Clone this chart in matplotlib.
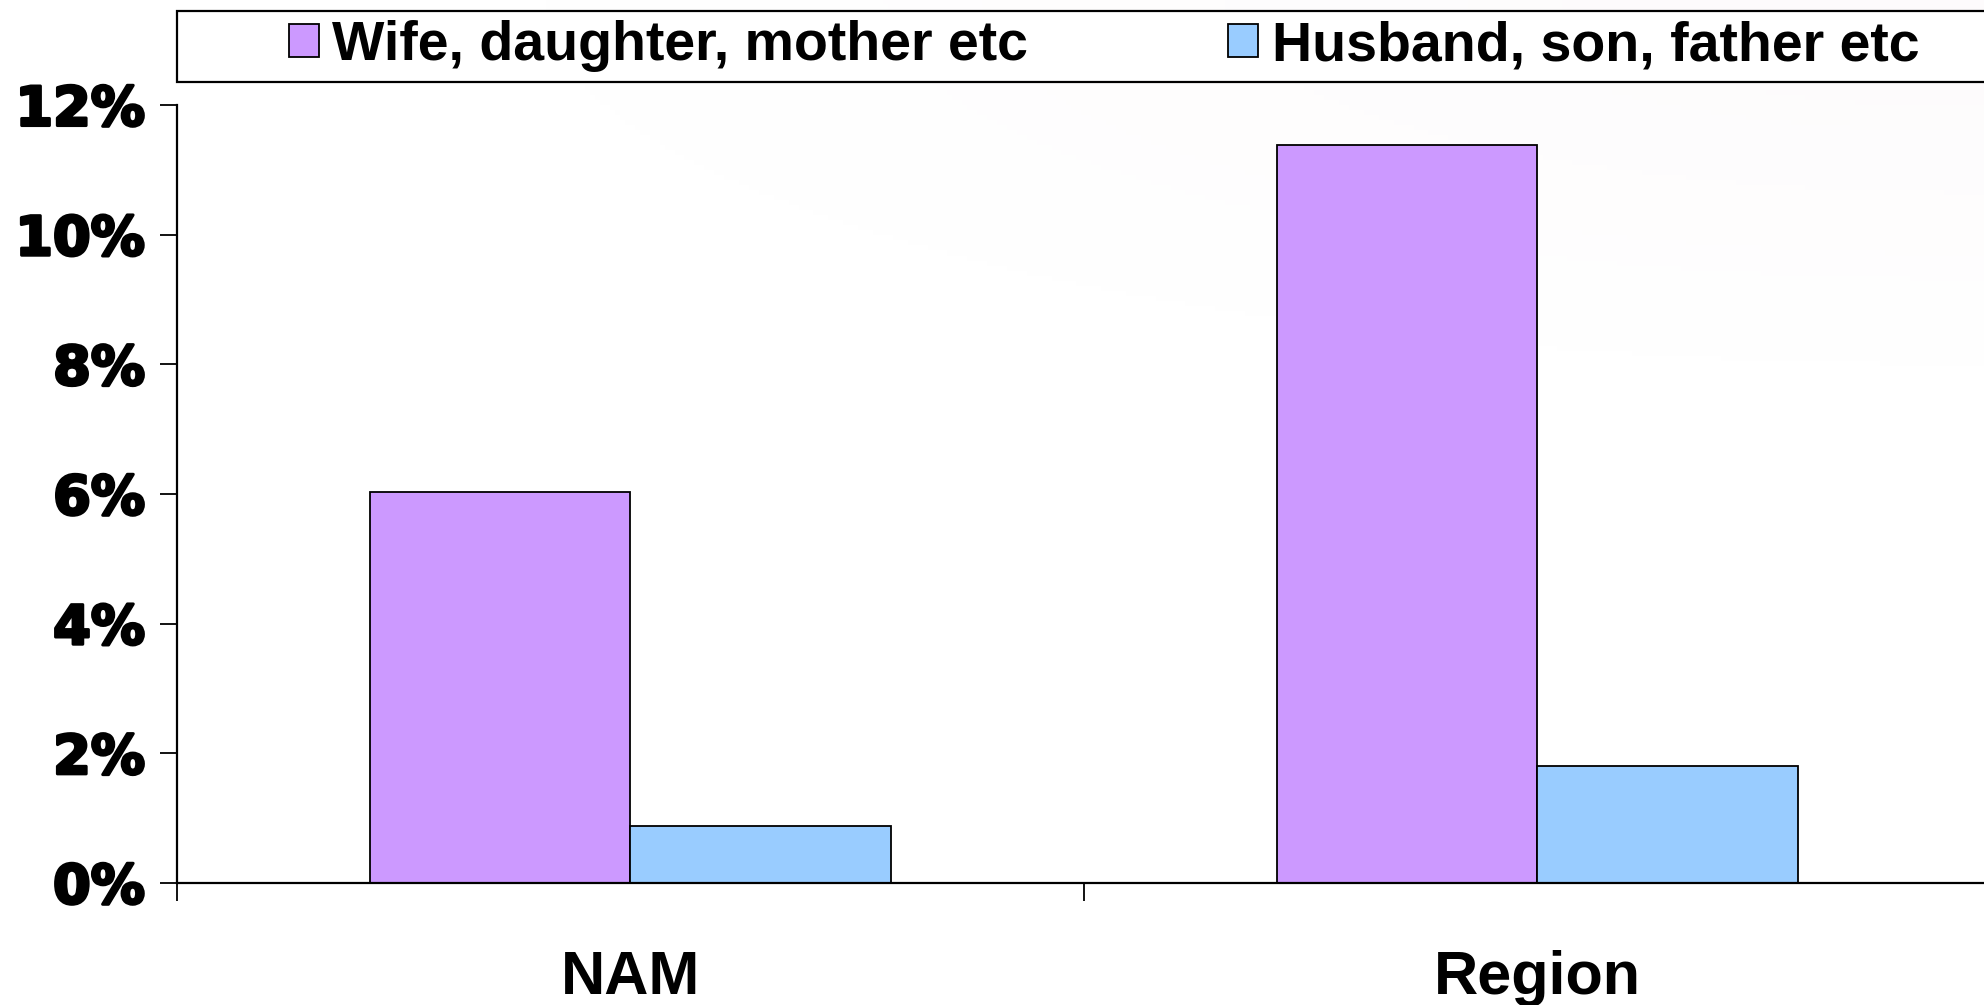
import matplotlib
matplotlib.use("Agg")
import matplotlib.pyplot as plt
import matplotlib.patheffects as pe
import numpy as np
from matplotlib.patches import Rectangle

categories = ["NAM", "Region"]
series_names = ["Wife, daughter, mother etc", "Husband, son, father etc"]
female_pct = [6.03, 11.38]
male_pct = [0.88, 1.81]
y_ticks = [0, 2, 4, 6, 8, 10, 12]
y_tick_labels = ["0%", "2%", "4%", "6%", "8%", "10%", "12%"]

colors = ["#CC99FF", "#99CCFF"]

fig = plt.figure(figsize=(19.84, 10.05), dpi=100)

# faint slide background wash in the top-right corner
yy, xx = np.mgrid[0:1:200j, 0:1:400j]
wash = np.clip(1.2 - np.hypot((1 - xx) * 1.6, yy * 3.2), 0, 1) * 0.10
bg = np.ones((200, 400, 4))
bg[..., 0] = 0.93
bg[..., 1] = 0.86
bg[..., 2] = 0.9
bg[..., 3] = wash
bgax = fig.add_axes([0, 0, 1, 1], zorder=-5)
bgax.imshow(bg, extent=[0, 1, 0, 1], aspect="auto")
bgax.axis("off")

ax = fig.add_axes([0.0892, 0.1214, 0.9143, 0.7741])
ax.patch.set_alpha(0)

x = np.arange(len(categories)) + 0.5
w = 0.287
ax.bar(x - w / 2, female_pct, w, color=colors[0], edgecolor="black",
       linewidth=1.3, label=series_names[0])
ax.bar(x + w / 2, male_pct, w, color=colors[1], edgecolor="black",
       linewidth=1.3, label=series_names[1])

ax.set_xlim(0, len(categories))
ax.set_ylim(0, 12)

ax.set_yticks(y_ticks)
ax.set_yticklabels(y_tick_labels, fontfamily="DejaVu Sans",
                   fontweight="bold", fontsize=39)
for t in ax.get_yticklabels():
    t.set_path_effects([pe.withStroke(linewidth=2.2, foreground="black")])
ax.tick_params(axis="y", length=12, width=1.3, pad=11)

# category boundary ticks, labels centred between them
ax.set_xticks(np.arange(len(categories) + 1))
ax.set_xticklabels([])
ax.set_xticks(x, minor=True)
ax.set_xticklabels(categories, minor=True, fontfamily="Liberation Sans",
                   fontweight="bold", fontsize=44)
ax.tick_params(axis="x", which="major", length=13, width=1.3)
ax.tick_params(axis="x", which="minor", length=0, pad=48)

for side in ["top", "right"]:
    ax.spines[side].set_visible(False)
for side in ["left", "bottom"]:
    ax.spines[side].set_linewidth(1.6)

# legend frame drawn as a box, legend entries centred inside it
fig.patches.append(Rectangle((177 / 1984, 1 - 82 / 1005), 0.92, 71 / 1005,
                             transform=fig.transFigure, facecolor="white",
                             edgecolor="black", linewidth=1.6))
handles, labels = ax.get_legend_handles_labels()
leg = fig.legend(handles, labels, loc="center", ncol=2,
                 bbox_to_anchor=(0.5565, 1 - 46.5 / 1005), frameon=False,
                 prop={"family": "Liberation Sans", "weight": "bold", "size": 40},
                 handlelength=0.54, handleheight=0.54, handletextpad=0.25,
                 columnspacing=3.6, borderpad=0)

fig.savefig("out.png", dpi=100)
